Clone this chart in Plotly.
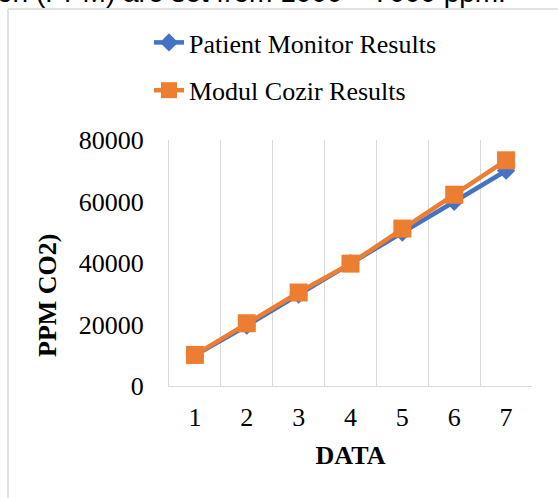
import plotly.graph_objects as go

categories = ["1", "2", "3", "4", "5", "6", "7"]
patient_monitor = [10000, 19600, 29700, 40000, 49900, 59900, 70000]
modul_cozir = [10100, 20400, 30400, 39800, 51200, 62200, 73400]
y_ticks = [0, 20000, 40000, 60000, 80000]

W, H = 558, 498
L, R, T, B = 169, 26, 140, 112
PW, PH = W - L - R, H - T - B


def px(x):
    return (x - L) / PW


def py(y):
    return 1 - (y - T) / PH


SERIF = "Liberation Serif, Times New Roman, serif"
SANS = "Liberation Sans, Arial, sans-serif"
GRID = "#d9d9d9"

fig = go.Figure()
fig.add_trace(go.Scatter(
    x=categories, y=patient_monitor, name="Patient Monitor Results",
    mode="lines+markers", legendgroup="a",
    line=dict(color="#4472C4", width=4.5),
    marker=dict(symbol="diamond", size=14, color="#4472C4"),
))
fig.add_trace(go.Scatter(
    x=categories, y=modul_cozir, name="Modul Cozir Results",
    mode="lines+markers", legendgroup="b",
    line=dict(color="#ED7D31", width=4.5),
    marker=dict(symbol="square", size=18, color="#ED7D31"),
))

fig.update_layout(
    width=W, height=H,
    margin=dict(l=L, r=R, t=T, b=B),
    paper_bgcolor="white", plot_bgcolor="white",
    font=dict(family=SERIF, size=26, color="black"),
    showlegend=True,
    legend=dict(
        x=px(149), y=py(19), xanchor="left", yanchor="top",
        orientation="v", tracegroupgap=11,
        font=dict(family=SERIF, size=26, color="black"),
        bgcolor="rgba(0,0,0,0)",
    ),
    xaxis=dict(
        type="category", range=[-0.5, 6.5],
        showgrid=True, gridcolor=GRID, gridwidth=1.3,
        tickson="boundaries", ticks="", ticklabelstandoff=8,
        showline=True, linecolor=GRID, linewidth=1.3,
        zeroline=False,
        tickfont=dict(family=SERIF, size=26, color="black"),
        title=dict(text="<b>DATA</b>", standoff=14,
                   font=dict(family=SERIF, size=26, color="black")),
    ),
    yaxis=dict(
        range=[0, 80000], tickvals=y_ticks,
        ticktext=[str(v) for v in y_ticks],
        showgrid=False, zeroline=False,
        showline=True, linecolor=GRID, linewidth=1.3,
        ticks="", ticklabelstandoff=19,
        tickfont=dict(family=SERIF, size=26, color="black"),
    ),
    annotations=[
        dict(text="<b>PPM CO2)</b>", textangle=-90,
        xref="paper", yref="paper", x=px(47), y=py(296),
        xanchor="center", yanchor="middle", showarrow=False,
        font=dict(family=SERIF, size=26, color="black")),
        dict(text="concentration (PPM) are set from 1000 \u2013 7000 ppm.",
        xref="paper", yref="paper", x=px(508), y=py(-7.5),
        xanchor="right", yanchor="middle", showarrow=False,
        font=dict(family=SANS, size=28, color="black")),
    ],
    shapes=[
        dict(type="line", xref="paper", yref="paper",
             x0=px(8), x1=px(8), y0=py(9), y1=py(520),
             line=dict(color=GRID, width=1.5)),
        dict(type="line", xref="paper", yref="paper",
             x0=px(8), x1=px(580), y0=py(9), y1=py(9),
             line=dict(color=GRID, width=1.5)),
    ],
)

fig.write_html("out.html", config={"displayModeBar": False},
               post_script="document.body.style.margin='0';")
